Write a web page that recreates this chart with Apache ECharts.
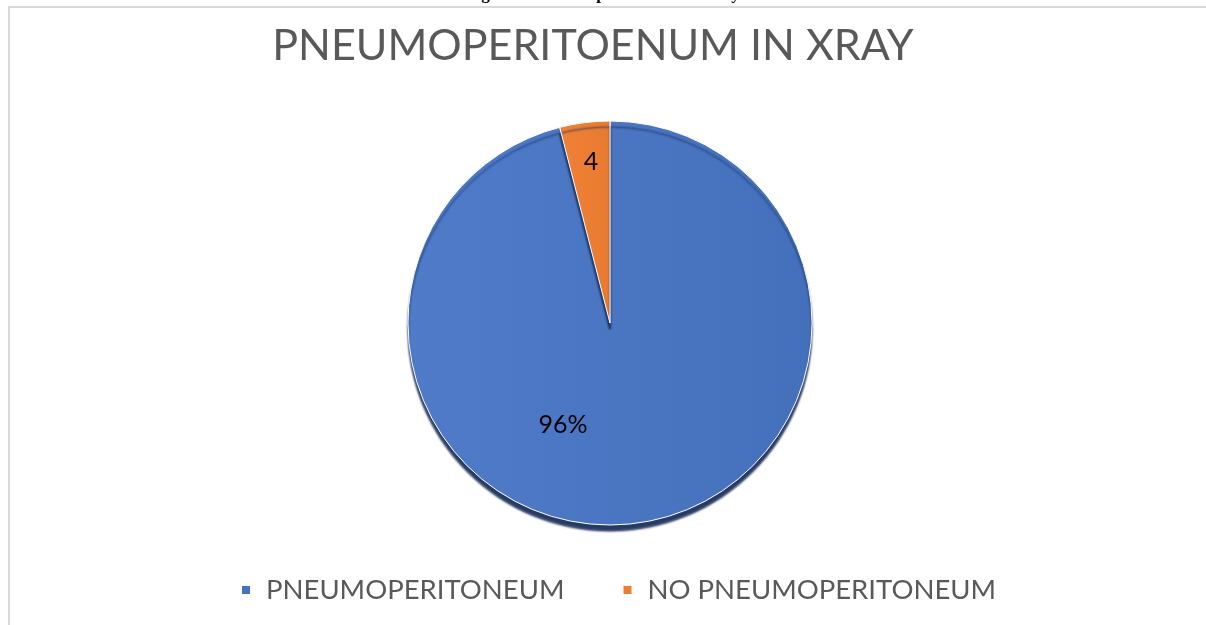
<!DOCTYPE html>
<html>
<head>
<meta charset="utf-8">
<script src="https://cdn.jsdelivr.net/npm/echarts@6/dist/echarts.min.js"></script>
<style>
html,body{margin:0;padding:0;background:#fff;}
#chart{width:1206px;height:625px;}
</style>
</head>
<body>
<div id="chart"></div>
<script>
const figureCaption = 'Figure 4: Pneumoperitoneum in Xray';
const chartTitle = 'PNEUMOPERITOENUM IN XRAY';
const categories = ['PNEUMOPERITONEUM', 'NO PNEUMOPERITONEUM'];
const values = [96, 4];
const labelTexts = ['96%', '4'];

const chart = echarts.init(document.getElementById('chart'));
const font = 'Lato, Carlito, "Open Sans", sans-serif';
const fills = [
  new echarts.graphic.LinearGradient(0, 0, 1, 0, [{ offset: 0, color: '#4f7bc9' }, { offset: 1, color: '#4470bb' }]),
  new echarts.graphic.LinearGradient(0, 0, 1, 0, [{ offset: 0, color: '#ef8036' }, { offset: 1, color: '#e97b30' }])
];
const legendColors = ['#4472C4', '#ED7D31'];

chart.setOption({
  animation: false,
  color: legendColors,
  graphic: [
    { type: 'rect', shape: { x: 9, y: 7, width: 1210, height: 640 }, style: { fill: 'none', stroke: '#d9d9d9', lineWidth: 2 } },
    { type: 'text', left: 'center', top: -14, style: { text: figureCaption, font: 'bold 17px "Liberation Serif", "Times New Roman", serif', fill: '#000' } }
  ],
  title: {
    text: chartTitle,
    left: 588, textAlign: 'center', top: 20,
    textStyle: { fontFamily: font, fontWeight: 'normal', fontSize: 43, color: '#595959' }
  },
  legend: {
    bottom: 16, left: 235,
    itemWidth: 10, itemHeight: 10, itemGap: 57,
    icon: 'rect',
    textStyle: { fontFamily: font, fontSize: 27.5, color: '#595959', padding: [0, 0, 0, 10] },
    data: categories.map((c, i) => ({ name: c, itemStyle: { color: legendColors[i] } }))
  },
  series: [{
    type: 'pie',
    center: [610, 323],
    radius: 202,
    startAngle: 90,
    clockwise: true,
    label: { show: true, position: 'inside', fontFamily: font, fontSize: 25, color: '#000' },
    labelLine: { show: false },
    itemStyle: { borderColor: '#fff', borderWidth: 1, shadowColor: 'rgba(28,48,92,0.95)', shadowOffsetY: 6, shadowBlur: 2 },
    emphasis: { disabled: true },
    data: categories.map((c, i) => ({
      name: c, value: values[i],
      itemStyle: { color: fills[i] },
      label: { formatter: labelTexts[i], offset: i === 0 ? [-60, -1] : [-6, -58] }
    }))
  }]
});
</script>
</body>
</html>
